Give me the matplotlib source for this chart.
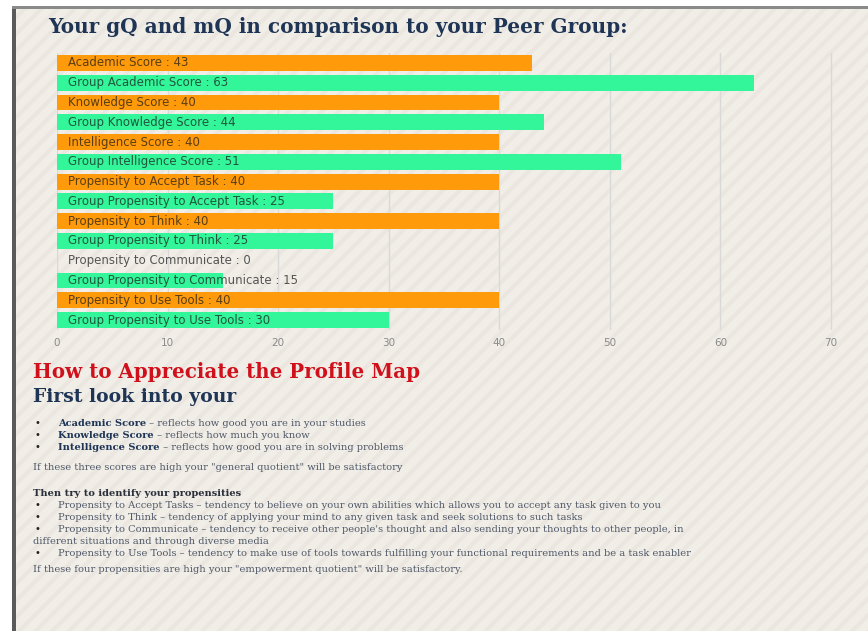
import matplotlib
matplotlib.use("Agg")
import matplotlib.pyplot as plt
from matplotlib.patches import Rectangle

W, H = 868, 631

# ---- data ----
labels = ["Academic Score", "Group Academic Score", "Knowledge Score", "Group Knowledge Score",
          "Intelligence Score", "Group Intelligence Score", "Propensity to Accept Task",
          "Group Propensity to Accept Task", "Propensity to Think", "Group Propensity to Think",
          "Propensity to Communicate", "Group Propensity to Communicate",
          "Propensity to Use Tools", "Group Propensity to Use Tools"]
values = [43, 63, 40, 44, 40, 51, 40, 25, 40, 25, 0, 15, 40, 30]
is_group = [False, True] * 7
xticks = [0, 10, 20, 30, 40, 50, 60, 70]

title = "Your gQ and mQ in comparison to your Peer Group:"
heading = "How to Appreciate the Profile Map"
subheading = "First look into your"
score_items = [("Academic Score", " \u2013 reflects how good you are in your studies"),
               ("Knowledge Score", " \u2013 reflects how much you know"),
               ("Intelligence Score", " \u2013 reflects how good you are in solving problems")]
gq_note = "If these three scores are high your \"general quotient\" will be satisfactory"
prop_heading = "Then try to identify your propensities"
prop_items = ["Propensity to Accept Tasks \u2013 tendency to believe on your own abilities which allows you to accept any task given to you",
              "Propensity to Think \u2013 tendency of applying your mind to any given task and seek solutions to such tasks",
              "Propensity to Communicate \u2013 tendency to receive other people's thought and also sending your thoughts to other people, in",
              "Propensity to Use Tools \u2013 tendency to make use of tools towards fulfilling your functional requirements and be a task enabler"]
prop_cont = "different situations and through diverse media"
mq_note = "If these four propensities are high your \"empowerment quotient\" will be satisfactory."

ORANGE = "#FF9A0A"
GREEN = "#33F599"
NAVY = "#1f3556"
BODY = "#4f5868"

plt.rcParams['hatch.linewidth'] = 3.0
fig = plt.figure(figsize=(W / 100, H / 100), dpi=100)
fig.patch.set_facecolor("white")

def fx(x):
    return x / W

def fy(y):
    return 1 - y / H

# page frame and striped background
bg = Rectangle((fx(16), 0), 1 - fx(16), fy(9), transform=fig.transFigure,
               facecolor="#f1eee8", edgecolor="#ebe7e0", linewidth=0, hatch="//", zorder=-10)
fig.patches.append(bg)
fig.patches.append(Rectangle((fx(12), 0), fx(4), fy(6), transform=fig.transFigure,
                             facecolor="#5a5a5a", edgecolor="none", zorder=-9))
fig.patches.append(Rectangle((fx(12), fy(9)), 1 - fx(12), 3 / H, transform=fig.transFigure,
                             facecolor="#8a8a8a", edgecolor="none", zorder=-9))

# ---- bar chart ----
ax_left, ax_top, ax_bottom = 57, 53, 330
xmax = (W - ax_left) / ((831 - 57) / 70)
ax = fig.add_axes([fx(ax_left), fy(ax_bottom), 1 - fx(ax_left), (ax_bottom - ax_top) / H])
ax.set_facecolor("none")
ypos = list(range(len(values)))
colors = [GREEN if g else ORANGE for g in is_group]
ax.barh(ypos, values, height=0.8, color=colors, zorder=2)
for y, lab, v in zip(ypos, labels, values):
    ax.text(1.0, y, f"{lab} : {v}", va="center", ha="left", fontsize=8.5,
            color="#1a1a1a", alpha=0.72, family="DejaVu Sans", zorder=3)
ax.set_xlim(0, xmax)
ax.set_ylim(len(values) - 0.5, -0.5)
ax.set_xticks(xticks)
ax.set_yticks([])
ax.grid(axis="x", color="#d9d9d9", linewidth=1, zorder=0)
for s in ax.spines.values():
    s.set_visible(False)
ax.tick_params(axis="x", length=0, pad=6, labelsize=7.5, labelcolor="#8a8a8a")

# ---- texts ----
fig.text(fx(48), fy(27), title, fontsize=14.4, fontweight="bold", family="DejaVu Serif",
         color=NAVY, va="center", ha="left")
fig.text(fx(33), fy(372), heading, fontsize=14.3, fontweight="bold", family="DejaVu Serif",
         color="#d0101a", va="center", ha="left")
fig.text(fx(33), fy(397), subheading, fontsize=13.5, fontweight="bold", family="DejaVu Serif",
         color=NAVY, va="center", ha="left")

body_fs = 7.1
for (b, rest), y in zip(score_items, [423, 435, 447]):
    fig.text(fx(35), fy(y), "\u2022", fontsize=body_fs, color="#222222", va="center", ha="left")
    t = fig.text(fx(58), fy(y), b, fontsize=body_fs, fontweight="bold", family="DejaVu Serif",
                 color=NAVY, va="center", ha="left")
    ax.annotate(rest, xy=(1, 0.5), xycoords=t, va="center", ha="left", fontsize=body_fs,
                family="DejaVu Serif", color=BODY, annotation_clip=False)

fig.text(fx(33), fy(468), gq_note, fontsize=body_fs, family="DejaVu Serif", color=BODY,
         va="center", ha="left")
fig.text(fx(33), fy(493), prop_heading, fontsize=body_fs, fontweight="bold", family="DejaVu Serif",
         color="#2a2f3a", va="center", ha="left")
for item, y in zip(prop_items, [505, 517, 529, 553]):
    fig.text(fx(35), fy(y), "\u2022", fontsize=body_fs, color="#222222", va="center", ha="left")
    fig.text(fx(58), fy(y), item, fontsize=body_fs, family="DejaVu Serif", color=BODY,
             va="center", ha="left")
fig.text(fx(33), fy(541), prop_cont, fontsize=body_fs, family="DejaVu Serif", color=BODY,
         va="center", ha="left")
fig.text(fx(33), fy(570), mq_note, fontsize=body_fs, family="DejaVu Serif", color=BODY,
         va="center", ha="left")

fig.savefig("out.png", dpi=100, facecolor=fig.get_facecolor())
